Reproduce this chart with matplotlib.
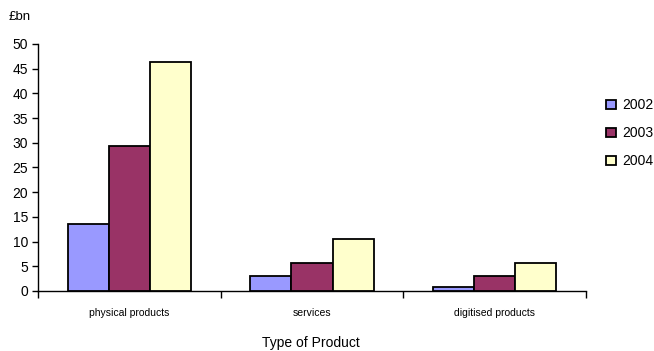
import matplotlib
matplotlib.use("Agg")
import matplotlib.pyplot as plt
import numpy as np

categories = ["physical products", "services", "digitised products"]
years = ["2002", "2003", "2004"]
values_2002 = [13.6, 3.0, 0.8]
values_2003 = [29.4, 5.7, 3.0]
values_2004 = [46.4, 10.5, 5.7]
colors = ["#9999FF", "#993366", "#FFFFCC"]

plt.rcParams["font.family"] = ["Liberation Sans", "DejaVu Sans"]

fig = plt.figure(figsize=(6.54, 3.51), dpi=100)
ax = fig.add_axes([0.058, 0.171, 0.838, 0.704])

x = np.arange(len(categories))
w = 0.225
series = [values_2002, values_2003, values_2004]
for i, (vals, col, yr) in enumerate(zip(series, colors, years)):
    ax.bar(x + (i - 1) * w, vals, width=w, color=col, edgecolor="black",
           linewidth=1.3, label=yr, zorder=3)

ax.set_xlim(-0.5, len(categories) - 0.5)
ax.set_ylim(0, 50)
ax.set_yticks(np.arange(0, 51, 5))
ax.tick_params(axis="y", labelsize=10, length=4, width=1, direction="out", pad=3)

ax.set_xticks(np.arange(-0.5, len(categories), 1.0))
ax.set_xticklabels([])
ax.tick_params(axis="x", length=5, width=1, direction="out")
for xi, name in zip(x, categories):
    ax.text(xi, -4.5, name, ha="center", va="center", fontsize=7.5)

ax.spines["top"].set_visible(False)
ax.spines["right"].set_visible(False)
for s in ("left", "bottom"):
    ax.spines[s].set_linewidth(1)

fig.text(0.475, 0.023, "Type of Product", ha="center", va="center", fontsize=10)
fig.text(0.013, 0.952, "£bn", ha="left", va="center", fontsize=9.5)

ax.legend(loc="center left", bbox_to_anchor=(0.918, 0.62),
          bbox_transform=fig.transFigure, frameon=False, fontsize=10,
          handlelength=0.7, handleheight=0.7, handletextpad=0.45,
          labelspacing=1.0, borderaxespad=0)

fig.savefig("out.png", dpi=100)
